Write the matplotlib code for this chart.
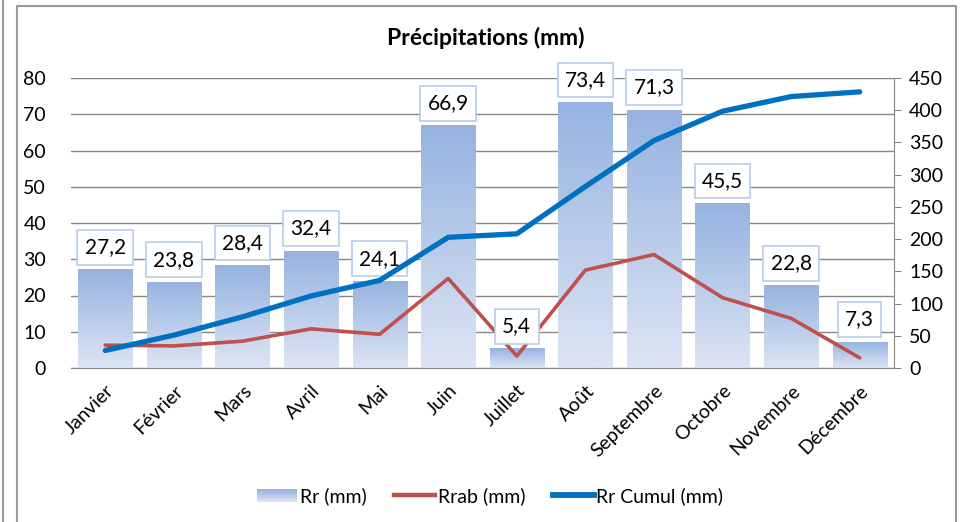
import numpy as np
import matplotlib
matplotlib.use("Agg")
import matplotlib.pyplot as plt
from matplotlib.colors import LinearSegmentedColormap
from matplotlib.legend_handler import HandlerBase
from matplotlib.lines import Line2D
from matplotlib.patches import Patch, Rectangle

plt.rcParams['font.family'] = ['Lato', 'DejaVu Sans']

# Données
mois = ['Janvier', 'Février', 'Mars', 'Avril', 'Mai', 'Juin', 'Juillet',
        'Août', 'Septembre', 'Octobre', 'Novembre', 'Décembre']
rr = [27.2, 23.8, 28.4, 32.4, 24.1, 66.9, 5.4, 73.4, 71.3, 45.5, 22.8, 7.3]
rrab = [6.3, 6.1, 7.4, 10.8, 9.3, 24.7, 3.3, 27.0, 31.3, 19.4, 13.7, 2.8]
rr_cumul = np.cumsum(rr)

W, H = 964, 522
cmap = LinearSegmentedColormap.from_list('g', ['#dde5f4', '#95b3e1'])


# handle de légende en dégradé
class HandlerGradient(HandlerBase):
    def create_artists(self, legend, orig, xd, yd, width, height, fontsize, trans):
        n = 12
        arts = []
        for i in range(n):
            r = Rectangle((xd, yd + height * i / n), width, height / n + 0.3,
                          fc=cmap(i / (n - 1)), ec='none', transform=trans)
            arts.append(r)
        return arts


fig = plt.figure(figsize=(W / 100, H / 100), dpi=100)

# cadres
fig.add_artist(Line2D([3 / W, 3 / W], [0, 1], color='#9a9a9a', lw=1.5))
fig.add_artist(Line2D([17 / W, 17 / W, 956 / W, 956 / W],
                      [0, 1 - 6 / H, 1 - 6 / H, 0], color='#9a9a9a', lw=1.5))

ax = fig.add_axes([71 / W, 1 - 368 / H, (894 - 71) / W, (368 - 78) / H])
ax2 = ax.twinx()
ax.set_zorder(ax2.get_zorder() - 1)
ax.patch.set_visible(False)

x = np.arange(len(mois))

grid_c = '#868686'
ax.set_yticks(range(0, 81, 10))
ax.yaxis.grid(True, color=grid_c, lw=1)
ax.set_axisbelow(True)

bars = ax.bar(x, rr, width=0.79, color='none', edgecolor='none', zorder=2)
grad = np.linspace(0, 1, 256).reshape(-1, 1)
for b in bars:
    x0, y0 = b.get_x(), b.get_y()
    im = ax.imshow(grad, cmap=cmap, origin='lower', aspect='auto',
                   extent=[x0, x0 + b.get_width(), y0, y0 + b.get_height()],
                   zorder=2)
    im.set_clip_path(b)
ax.set_xlim(-0.5, len(mois) - 0.5)
ax.set_ylim(0, 80)
ax2.set_ylim(0, 450)

for xi, v in zip(x, rr):
    ax.annotate(f"{v:.1f}".replace('.', ','), (xi, v), xytext=(0, 22),
                textcoords='offset pixels', ha='center', va='center',
                fontsize=15, color='black', zorder=5,
                bbox=dict(boxstyle='square,pad=0.35', fc='white',
                          ec='#b9cde5', lw=1.2))

ax.plot(x, rrab, color='#c0504d', lw=2.6, zorder=3, solid_capstyle='round')
ax2.plot(x, rr_cumul, color='#0070c0', lw=3.8, zorder=4, solid_capstyle='round')

ax.set_xticks(x)
ax.set_xticklabels(mois, rotation=45, ha='right', rotation_mode='anchor',
                   fontsize=14)
ax.tick_params(axis='x', length=0, pad=10)
ax.tick_params(axis='y', length=0, labelsize=14, pad=18)
ax2.set_yticks(range(0, 451, 50))
ax2.tick_params(axis='y', length=5, color=grid_c, labelsize=14, pad=6)

for s in ['top', 'left']:
    ax.spines[s].set_visible(False)
    ax2.spines[s].set_visible(False)
ax.spines['right'].set_visible(False)
ax2.spines['bottom'].set_visible(False)
ax.spines['bottom'].set_color(grid_c)
ax2.spines['right'].set_color(grid_c)

fig.text(486 / W, 1 - 38 / H, 'Précipitations (mm)', ha='center', va='center',
         fontsize=16.5, fontweight='bold')

handles = [Patch(facecolor='#b4c7e9', edgecolor='none'),
           Line2D([], [], color='#c0504d', lw=3.2),
           Line2D([], [], color='#0070c0', lw=4.2)]
fig.legend(handles, ['Rr (mm)', 'Rrab (mm)', 'Rr Cumul (mm)'], loc='center',
           bbox_to_anchor=(490 / W, 1 - 496 / H), ncol=3, frameon=False,
           fontsize=14, handlelength=2.1, handleheight=0.65, handletextpad=0.15,
           columnspacing=1.4, handler_map={Patch: HandlerGradient()})

fig.savefig('out.png', dpi=100)
